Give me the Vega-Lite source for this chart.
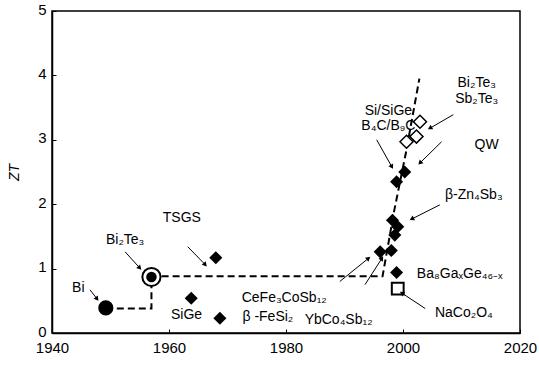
{
  "$schema": "https://vega.github.io/schema/vega-lite/v6.json",
  "width": 468,
  "height": 322,
  "autosize": "none",
  "padding": {"left": 52, "top": 11, "right": 19, "bottom": 33},
  "background": "white",
  "config": {
    "view": {"stroke": "black", "strokeWidth": 1.5},
    "font": "Liberation Sans",
    "axis": {"grid": false, "domainColor": "black", "tickColor": "black", "labelColor": "black", "labelFont": "Liberation Sans", "labelFontSize": 15, "titleColor": "black", "domainWidth": 1.5}
  },
  "datasets": {
    "dash": [
      {"i": 1, "year": 1949.2, "zt": 0.38},
      {"i": 2, "year": 1957, "zt": 0.38},
      {"i": 3, "year": 1957, "zt": 0.88},
      {"i": 4, "year": 1996.5, "zt": 0.88},
      {"i": 5, "year": 1998.5, "zt": 1.9},
      {"i": 6, "year": 2000.5, "zt": 2.8},
      {"i": 7, "year": 2002.8, "zt": 3.95}
    ],
    "arrows": [
      {"x": 1946.5, "y": 0.67, "x2": 1947.7, "y2": 0.53, "dir": 142},
      {"x": 1952.5, "y": 1.26, "x2": 1955.0, "y2": 1.01, "dir": 137},
      {"x": 1963.2, "y": 1.34, "x2": 1966.2, "y2": 1.06, "dir": 137},
      {"x": 1989.2, "y": 0.80, "x2": 1994.1, "y2": 1.16, "dir": 50},
      {"x": 1993.5, "y": 0.75, "x2": 1996.4, "y2": 1.16, "dir": 32},
      {"x": 2003.8, "y": 0.38, "x2": 1999.8, "y2": 0.62, "dir": 303},
      {"x": 2006.3, "y": 1.99, "x2": 2001.5, "y2": 1.77, "dir": 243},
      {"x": 1995.5, "y": 3.0, "x2": 1998.1, "y2": 2.58, "dir": 151},
      {"x": 2008.6, "y": 3.39, "x2": 2004.6, "y2": 3.18, "dir": 240},
      {"x": 2006.6, "y": 2.97, "x2": 2002.9, "y2": 2.64, "dir": 225}
    ],
    "pts": [
      {"kind": "filled", "year": 1968, "zt": 1.17},
      {"kind": "filled", "year": 1963.8, "zt": 0.54},
      {"kind": "filled", "year": 1968.7, "zt": 0.23},
      {"kind": "filled", "year": 1998.9, "zt": 2.35},
      {"kind": "filled", "year": 2000.3, "zt": 2.5},
      {"kind": "filled", "year": 1998.2, "zt": 1.75},
      {"kind": "filled", "year": 1999.1, "zt": 1.65},
      {"kind": "filled", "year": 1998.6, "zt": 1.52},
      {"kind": "filled", "year": 1996.1, "zt": 1.26},
      {"kind": "filled", "year": 1998.0, "zt": 1.28},
      {"kind": "filled", "year": 1998.9, "zt": 0.94},
      {"kind": "open", "year": 2002.9, "zt": 3.28},
      {"kind": "open", "year": 2000.6, "zt": 2.97},
      {"kind": "open", "year": 2002.3, "zt": 3.05},
      {"kind": "square", "year": 1999.1, "zt": 0.69},
      {"kind": "bi", "year": 1949.2, "zt": 0.39},
      {"kind": "ring", "year": 1957, "zt": 0.87}
    ],
    "labels": [
      {"t": "Bi", "year": 1944.5, "zt": 0.7},
      {"t": "Bi₂Te₃", "year": 1952.5, "zt": 1.44},
      {"t": "TSGS", "year": 1962.2, "zt": 1.78},
      {"t": "SiGe", "year": 1963, "zt": 0.28},
      {"t": "β -FeSi₂", "year": 1976.9, "zt": 0.25},
      {"t": "CeFe₃CoSb₁₂", "year": 1979.7, "zt": 0.54},
      {"t": "YbCo₄Sb₁₂", "year": 1989, "zt": 0.2},
      {"t": "Ba₈GaₓGe₄₆₋ₓ", "year": 2009.7, "zt": 0.92},
      {"t": "NaCo₂O₄", "year": 2010.4, "zt": 0.31},
      {"t": "β-Zn₄Sb₃", "year": 2012.1, "zt": 2.14},
      {"t": "QW", "year": 2014.3, "zt": 2.92},
      {"t": "Si/SiGe", "year": 1997.5, "zt": 3.44},
      {"t": "B₄C/B₉C", "year": 1997.5, "zt": 3.21},
      {"t": "Bi₂Te₃", "year": 2012.6, "zt": 3.88},
      {"t": "Sb₂Te₃", "year": 2012.6, "zt": 3.64}
    ]
  },
  "layer": [
    {
      "data": {"name": "dash"},
      "mark": {"type": "line", "color": "black", "strokeWidth": 2, "strokeDash": [7, 4]},
      "encoding": {
        "x": {"field": "year", "type": "quantitative", "scale": {"domain": [1940, 2020], "nice": false},
          "axis": {"values": [1940, 1960, 1980, 2000, 2020], "tickSize": -4, "labelPadding": 11, "labelFontSize": 15, "title": null, "format": "d", "labelFlush": false}},
        "y": {"field": "zt", "type": "quantitative", "scale": {"domain": [0, 5], "nice": false},
          "axis": {"values": [0, 0.5, 1, 1.5, 2, 2.5, 3, 3.5, 4, 4.5, 5], "tickSize": -4, "labelPadding": 10, "labelFontSize": 15, "labelOffset": -2, "format": "~g", "labelExpr": "datum.value % 1 === 0 ? datum.label : ''", "title": "ZT", "titleFontStyle": "italic", "titleFontWeight": "normal", "titleFontSize": 14, "titlePadding": 16, "labelFlush": false}},
        "order": {"field": "i"}
      }
    },
    {
      "data": {"name": "arrows"},
      "mark": {"type": "rule", "color": "black", "strokeWidth": 1},
      "encoding": {
        "x": {"field": "x", "type": "quantitative"},
        "y": {"field": "y", "type": "quantitative"},
        "x2": {"field": "x2"},
        "y2": {"field": "y2"}
      }
    },
    {
      "data": {"name": "arrows"},
      "mark": {"type": "point", "shape": "triangle-up", "filled": true, "color": "black", "size": 28, "opacity": 1},
      "encoding": {
        "x": {"field": "x2", "type": "quantitative"},
        "y": {"field": "y2", "type": "quantitative"},
        "angle": {"field": "dir", "type": "quantitative", "scale": null}
      }
    },
    {
      "data": {"name": "pts"},
      "transform": [{"filter": "datum.kind === 'filled'"}],
      "mark": {"type": "point", "shape": "diamond", "filled": true, "color": "black", "size": 170, "opacity": 1},
      "encoding": {"x": {"field": "year", "type": "quantitative"}, "y": {"field": "zt", "type": "quantitative"}}
    },
    {
      "data": {"name": "pts"},
      "transform": [{"filter": "datum.kind === 'open'"}],
      "mark": {"type": "point", "shape": "diamond", "filled": true, "fill": "white", "stroke": "black", "strokeWidth": 1.5, "size": 170, "opacity": 1},
      "encoding": {"x": {"field": "year", "type": "quantitative"}, "y": {"field": "zt", "type": "quantitative"}}
    },
    {
      "data": {"name": "pts"},
      "transform": [{"filter": "datum.kind === 'square'"}],
      "mark": {"type": "point", "shape": "square", "filled": false, "stroke": "black", "strokeWidth": 2, "size": 140, "opacity": 1},
      "encoding": {"x": {"field": "year", "type": "quantitative"}, "y": {"field": "zt", "type": "quantitative"}}
    },
    {
      "data": {"name": "pts"},
      "transform": [{"filter": "datum.kind === 'bi'"}],
      "mark": {"type": "point", "shape": "circle", "filled": true, "color": "black", "size": 230, "opacity": 1},
      "encoding": {"x": {"field": "year", "type": "quantitative"}, "y": {"field": "zt", "type": "quantitative"}}
    },
    {
      "data": {"name": "pts"},
      "transform": [{"filter": "datum.kind === 'ring'"}],
      "mark": {"type": "point", "shape": "circle", "filled": true, "fill": "white", "stroke": "black", "strokeWidth": 2, "size": 330, "opacity": 1},
      "encoding": {"x": {"field": "year", "type": "quantitative"}, "y": {"field": "zt", "type": "quantitative"}}
    },
    {
      "data": {"name": "pts"},
      "transform": [{"filter": "datum.kind === 'ring'"}],
      "mark": {"type": "point", "shape": "circle", "filled": true, "color": "black", "size": 110, "opacity": 1},
      "encoding": {"x": {"field": "year", "type": "quantitative"}, "y": {"field": "zt", "type": "quantitative"}}
    },
    {
      "data": {"name": "labels"},
      "mark": {"type": "text", "fontSize": 14, "color": "black", "align": "center", "baseline": "middle"},
      "encoding": {
        "x": {"field": "year", "type": "quantitative"},
        "y": {"field": "zt", "type": "quantitative"},
        "text": {"field": "t"}
      }
    }
  ]
}
